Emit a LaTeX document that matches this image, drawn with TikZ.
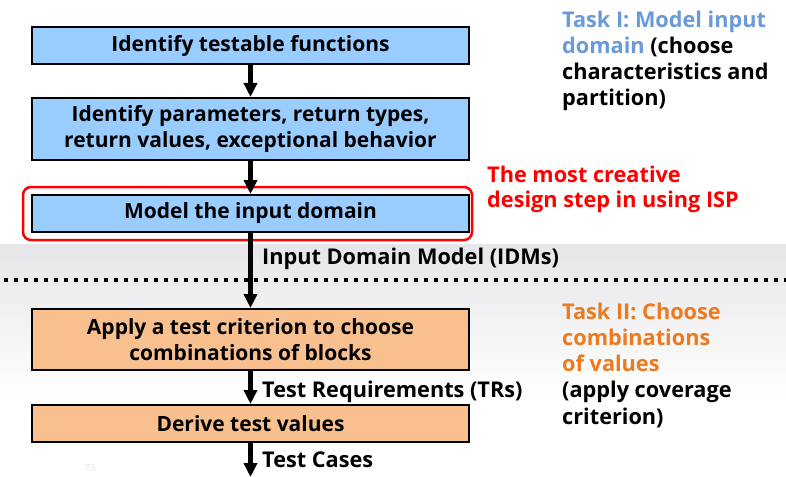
\documentclass[tikz,border=0pt]{standalone}
\usepackage{fontspec}
\setmainfont{Open Sans}
\usetikzlibrary{arrows.meta}
\definecolor{boxblue}{HTML}{99CCFF}
\definecolor{boxorange}{HTML}{F8C08E}
\definecolor{taskblue}{HTML}{6A9BD8}
\definecolor{taskorange}{HTML}{EC7A1E}
\definecolor{bandgray}{HTML}{E6E6EA}
\begin{document}
\begin{tikzpicture}[x=1pt,y=-1pt,
  fnt/.style={font=\bfseries\fontsize{21}{26}\selectfont},
  sidefnt/.style={font=\bfseries\fontsize{21.7}{26}\selectfont},
  stepbox/.style={fnt,draw=black,line width=2pt,minimum width=437pt,align=center,inner sep=0pt},
  flow/.style={line width=4.5pt,-{Triangle[width=13pt,length=14pt]}},
  lbl/.style={sidefnt,anchor=base west,inner sep=0pt}]
\useasboundingbox (0,0) rectangle (786,476);
\shade[top color=bandgray,bottom color=white,draw=none] (0,244) rectangle (786,400);

\node[stepbox,fill=boxblue,minimum height=37pt] (b1) at (250.5,45.5) {Identify testable functions};
\node[stepbox,fill=boxblue,minimum height=62pt] (b2) at (250.5,129) {Identify parameters, return types,\\return values, exceptional behavior};
\node[stepbox,fill=boxblue,minimum height=37pt] (b3) at (250.5,213.5) {Model the input domain};
\node[stepbox,fill=boxorange,minimum height=61pt] (b4) at (250.5,339.5) {Apply a test criterion to choose\\combinations of blocks};
\node[stepbox,fill=boxorange,minimum height=37pt] (b5) at (250.5,423.5) {Derive test values};

\draw[red,line width=2.5pt,rounded corners=8pt] (23,187) rectangle (472,240);

\draw[line width=4pt,dash pattern=on 4pt off 6pt] (4,280) -- (786,280);

\coordinate (end) at (250.5,477);
\draw[flow] (b1) -- (b2);
\draw[flow] (b2) -- (b3);
\draw[flow] (b3) -- (b4);
\draw[flow] (b4) -- (b5);
\draw[flow] (b5) -- (end);

\node[lbl] (l1) at (262,264) {Input Domain Model (IDMs)};
\node[lbl] (l2) at (262,397) {Test Requirements (TRs)};
\node[lbl] (l3) at (262,467) {Test Cases};

\node[lbl,text=taskblue] (ta) at (562,28) {Task I: Model input};
\node[lbl] (tb) at (562,54) {\textcolor{taskblue}{domain} (choose};
\node[lbl] (tc) at (562,80) {characteristics and};
\node[lbl] (td) at (562,106) {partition)};

\node[lbl,text=red] (ra) at (487,182) {The most creative};
\node[lbl,text=red] (rb) at (487,207) {design step in using ISP};

\node[lbl,text=taskorange] (sa) at (562,319) {Task II: Choose};
\node[lbl,text=taskorange] (sb) at (562,345) {combinations};
\node[lbl,text=taskorange] (sc) at (562,371) {of values};
\node[lbl] (sd) at (562,397) {(apply coverage};
\node[lbl] (se) at (562,424) {criterion)};

\node[font=\bfseries\fontsize{10}{12}\selectfont,text=gray!12,anchor=base] (pg) at (90,471) {73};
\end{tikzpicture}
\end{document}
